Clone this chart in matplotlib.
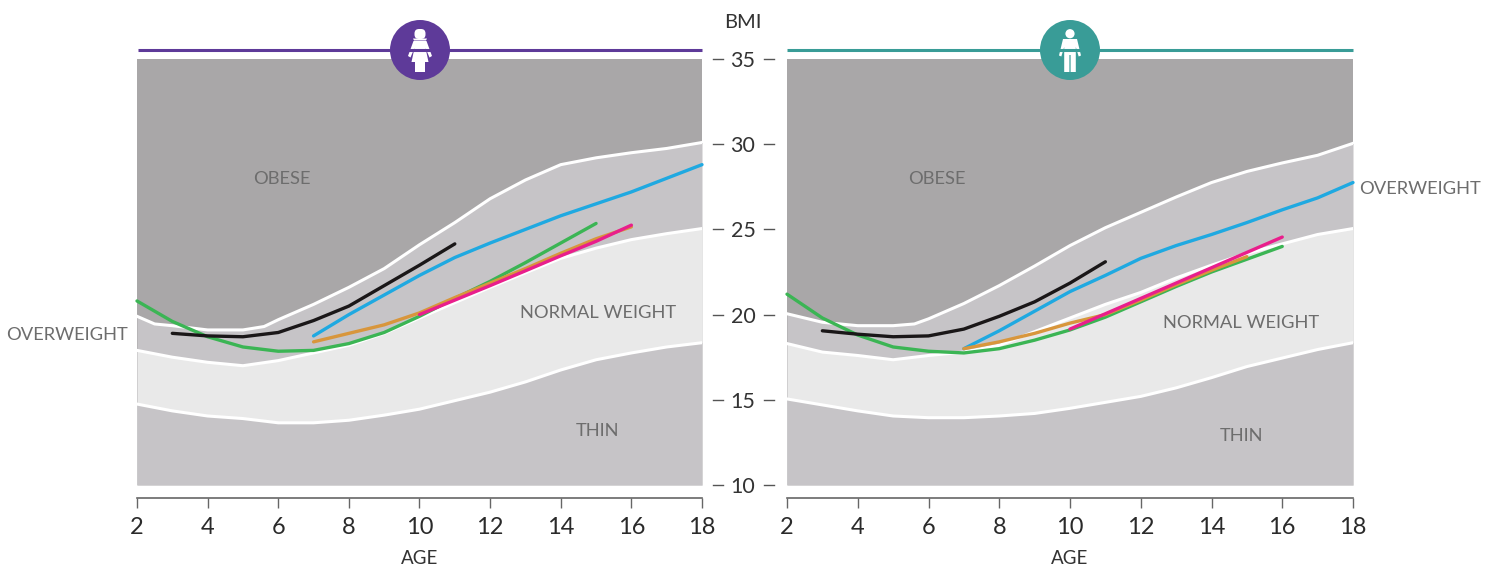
import matplotlib
matplotlib.use('Agg')
import matplotlib.pyplot as plt
from matplotlib.patches import Circle, Polygon, Rectangle, FancyBboxPatch
from matplotlib.transforms import blended_transform_factory

plt.rcParams['font.family'] = ['Lato', 'DejaVu Sans']

W, H = 1494, 565

ages = [2, 3, 4, 5, 6, 7, 8, 9, 10, 11, 12, 13, 14, 15, 16, 17, 18]
age_ticks = [2, 4, 6, 8, 10, 12, 14, 16, 18]
bmi_ticks = [10, 15, 20, 25, 30, 35]

# girls: category borders
g_upper_age = [2, 2.5, 3, 4, 5, 5.6, 6, 7, 8, 9, 10, 11, 12, 13, 14, 15, 16, 17, 18]
g_upper = [19.9, 19.45, 19.35, 19.1, 19.1, 19.3, 19.7, 20.6, 21.6, 22.7, 24.1, 25.4, 26.8, 27.9, 28.8, 29.2, 29.5, 29.75, 30.1]
g_lower = [17.9, 17.5, 17.2, 17.0, 17.3, 17.75, 18.2, 18.9, 19.8, 20.7, 21.6, 22.45, 23.3, 23.9, 24.4, 24.75, 25.05]
g_thin = [14.75, 14.35, 14.05, 13.9, 13.65, 13.65, 13.8, 14.1, 14.45, 14.95, 15.45, 16.05, 16.75, 17.35, 17.75, 18.1, 18.35]

# boys: category borders
b_upper_age = [2, 3, 4, 5, 5.6, 6, 7, 8, 9, 10, 11, 12, 13, 14, 15, 16, 17, 18]
b_upper = [20.05, 19.55, 19.35, 19.35, 19.45, 19.75, 20.65, 21.7, 22.85, 24.05, 25.1, 26.0, 26.9, 27.75, 28.4, 28.9, 29.35, 30.05]
b_lower = [18.3, 17.8, 17.6, 17.35, 17.6, 17.8, 18.2, 19.0, 19.8, 20.6, 21.3, 22.15, 22.9, 23.6, 24.15, 24.7, 25.05]
b_thin = [15.05, 14.7, 14.35, 14.05, 13.95, 13.95, 14.05, 14.2, 14.5, 14.85, 15.2, 15.7, 16.3, 16.95, 17.45, 17.95, 18.35]

# girls: cohorts
g_green = [20.8, 19.6, 18.7, 18.1, 17.85, 17.9, 18.3, 18.95, 19.9, 20.95, 21.95, 23.05, 24.2, 25.35]
g_black = [18.9, 18.75, 18.7, 18.95, 19.65, 20.5, 21.7, 22.9, 24.15]
g_blue = [18.75, 20.0, 21.15, 22.3, 23.35, 24.2, 25.0, 25.8, 26.5, 27.2, 28.0, 28.8]
g_orange = [18.4, 18.9, 19.4, 20.1, 21.0, 21.85, 22.7, 23.6, 24.45, 25.15]
g_pink = [20.0, 20.85, 21.7, 22.57, 23.45, 24.3, 25.25]

# boys: cohorts
b_green = [21.2, 19.8, 18.8, 18.1, 17.85, 17.75, 18.0, 18.5, 19.1, 19.85, 20.75, 21.65, 22.5, 23.25, 24.0]
b_black = [19.05, 18.85, 18.7, 18.75, 19.15, 19.9, 20.75, 21.85, 23.1]
b_blue = [18.0, 19.05, 20.2, 21.35, 22.3, 23.3, 24.05, 24.7, 25.4, 26.15, 26.85, 27.75]
b_orange = [18.0, 18.4, 18.9, 19.5, 20.0, 20.85, 21.75, 22.6, 23.4]
b_pink = [19.15, 20.05, 20.95, 21.85, 22.75, 23.65, 24.55]

GREEN = '#3bb554'
BLACK = '#1a1718'
BLUE = '#1fa9e1'
ORANGE = '#d8963c'
PINK = '#e91e8c'
PURPLE = '#5e3a99'
TEAL = '#399c97'
C_OBESE = '#a9a7a8'
C_OVER = '#c6c4c7'
C_NORMAL = '#e9e9e9'
C_TXT = '#6d6d6d'


def panel(x0, x1, upper_age, upper, lower, thin, green, black, blue, orange, pink):
    ax = fig.add_axes([x0 / W, 1 - 485 / H, (x1 - x0) / W, 426 / H])
    ax.set_xlim(2, 18)
    ax.set_ylim(10, 35)
    ax.set_facecolor(C_OBESE)
    ax.fill_between(upper_age, 10, upper, color=C_OVER, lw=0)
    ax.fill_between(ages, 10, lower, color=C_NORMAL, lw=0)
    ax.fill_between(ages, 10, thin, color=C_OVER, lw=0)
    for xs, ys in [(upper_age, upper), (ages, lower), (ages, thin)]:
        ax.plot(xs, ys, color='white', lw=2.2)

    ax.plot(ages[:len(green)], green, color=GREEN, lw=2.4, clip_on=False, solid_capstyle='round')
    ax.plot(ages[1:1 + len(black)], black, color=BLACK, lw=2.4, solid_capstyle='round')
    ax.plot(ages[5:5 + len(blue)], blue, color=BLUE, lw=2.4, clip_on=False, solid_capstyle='round')
    ax.plot(ages[5:5 + len(orange)], orange, color=ORANGE, lw=2.4, solid_capstyle='round')
    ax.plot(ages[8:8 + len(pink)], pink, color=PINK, lw=2.4, solid_capstyle='round')

    for s in ['top', 'left', 'right']:
        ax.spines[s].set_visible(False)
    ax.spines['bottom'].set_position(('outward', 9))
    ax.spines['bottom'].set_color('#666666')
    ax.spines['bottom'].set_linewidth(1.2)
    ax.set_xticks(age_ticks)
    ax.set_yticks([])
    ax.tick_params(axis='x', length=7.5, width=1, color='#666666', pad=6.5, labelsize=17, labelcolor='#2a2a2a')
    ax.set_xlabel('AGE', fontsize=13.5, color='#333333', labelpad=8.5)
    return ax


def girl_icon(ov, cx, cy):
    ov.add_patch(Circle((cx, cy), 30, color=PURPLE, lw=0))
    ov.add_patch(FancyBboxPatch((cx - 5.5, cy - 21), 11, 10, boxstyle='round,pad=0,rounding_size=4.5', color='white', lw=0))
    ov.add_patch(Polygon([(cx - 7, cy - 11.5), (cx + 7, cy - 11.5), (cx + 6, cy - 9.5), (cx - 6, cy - 9.5)], color='white', lw=0))
    ov.add_patch(Polygon([(cx - 6.5, cy - 9), (cx + 6.5, cy - 9), (cx + 12, cy + 6), (cx + 9.5, cy + 7.5), (cx + 5.5, cy - 2),
                          (cx + 8.5, cy + 12), (cx - 8.5, cy + 12), (cx - 5.5, cy - 2), (cx - 9.5, cy + 7.5), (cx - 12, cy + 6)],
                         color='white', lw=0))
    ov.add_patch(Rectangle((cx - 5, cy + 12), 4.6, 10, color='white', lw=0))
    ov.add_patch(Rectangle((cx + 0.4, cy + 12), 4.6, 10, color='white', lw=0))


def boy_icon(ov, cx, cy):
    ov.add_patch(Circle((cx, cy), 30, color=TEAL, lw=0))
    ov.add_patch(Circle((cx, cy - 16.3), 4.6, color='white', lw=0))
    ov.add_patch(Polygon([(cx - 7, cy - 11), (cx + 7, cy - 11), (cx + 11, cy + 5.5), (cx + 8.7, cy + 6.5), (cx + 5.8, cy - 3),
                          (cx + 5.8, cy + 22), (cx + 0.6, cy + 22), (cx + 0.6, cy + 5), (cx - 0.6, cy + 5), (cx - 0.6, cy + 22),
                          (cx - 5.8, cy + 22), (cx - 5.8, cy - 3), (cx - 8.7, cy + 6.5), (cx - 11, cy + 5.5)], color='white', lw=0))


fig = plt.figure(figsize=(W / 100, H / 100), dpi=100)

ax1 = panel(137, 702, g_upper_age, g_upper, g_lower, g_thin, g_green, g_black, g_blue, g_orange, g_pink)
ax2 = panel(787, 1353, b_upper_age, b_upper, b_lower, b_thin, b_green, b_black, b_blue, b_orange, b_pink)

# BMI scale between the panels, placed through the left panel's y axis
tr = blended_transform_factory(ax1.transAxes, ax1.transData)
for b in bmi_ticks:
    ax1.text(1.0726, b, str(b), transform=tr, ha='center', va='center_baseline', fontsize=15.5, color='#333333', clip_on=False)
    ax1.plot([1.0195, 1.0372], [b, b], transform=tr, color='#555555', lw=1, clip_on=False)
    ax1.plot([1.1097, 1.1274], [b, b], transform=tr, color='#555555', lw=1, clip_on=False)

# overlay in pixels for header lines, icons and zone names
ov = fig.add_axes([0, 0, 1, 1], facecolor='none')
ov.set_xlim(0, W)
ov.set_ylim(H, 0)
ov.axis('off')
ov.plot([138, 702], [50, 50], color=PURPLE, lw=2.2, solid_capstyle='butt')
ov.plot([787, 1353], [50, 50], color=TEAL, lw=2.2, solid_capstyle='butt')
girl_icon(ov, 420, 50)
boy_icon(ov, 1070, 50)

ov.text(743, 23, 'BMI', ha='center', va='center', fontsize=14.5, color='#333333')
labels = [('OBESE', 282, 179), ('NORMAL WEIGHT', 598, 313), ('THIN', 598, 431), ('OVERWEIGHT', 67, 335),
          ('OBESE', 937, 179), ('NORMAL WEIGHT', 1241, 323), ('THIN', 1241, 436), ('OVERWEIGHT', 1420, 189)]
for t, x, y in labels:
    ov.text(x, y, t, ha='center', va='center', fontsize=13.2, color=C_TXT)

fig.savefig('out.png', dpi=100)
